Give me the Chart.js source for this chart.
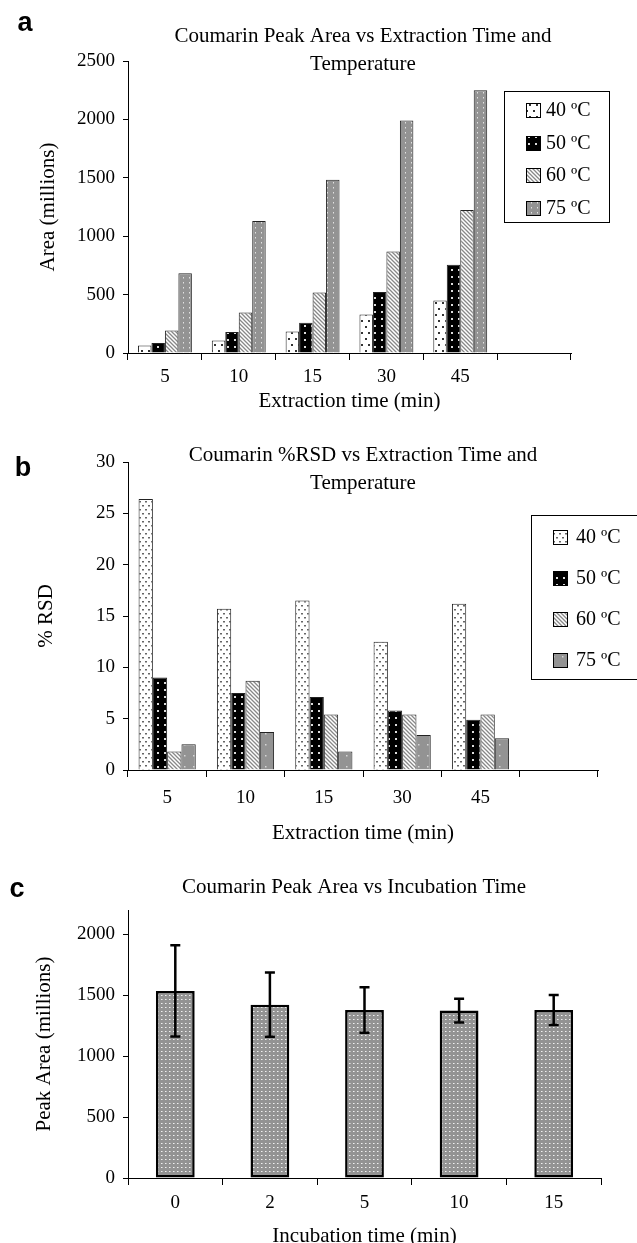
<!DOCTYPE html>
<html>
<head>
<meta charset="utf-8">
<script src="https://cdn.jsdelivr.net/npm/chart.js@4.4.1/dist/chart.umd.min.js"></script>
<style>
  body { margin: 0; background: #fff; width: 637px; height: 1243px; overflow: hidden; position: relative; }
  canvas { position: absolute; left: 0; }
</style>
</head>
<body>
<canvas id="chartA" width="637" height="420" style="top:0px"></canvas>
<canvas id="chartB" width="637" height="430" style="top:420px"></canvas>
<canvas id="chartC" width="637" height="400" style="top:850px"></canvas>
<script>
// ---- data ----
var extractionTimes = ['5', '10', '15', '30', '45', ''];
var tempLabels = ['40 ºC', '50 ºC', '60 ºC', '75 ºC'];

// panel a: peak area (millions)
var area40 = [65, 108, 185, 330, 449, null];
var area50 = [85, 179, 259, 523, 756, null];
var area60 = [193, 347, 517, 869, 1225, null];
var area75 = [682, 1131, 1483, 1991, 2250, null];
var areaTicks = [0, 500, 1000, 1500, 2000, 2500];

// panel b: %RSD
var rsd40 = [26.4, 15.7, 16.5, 12.5, 16.2, null];
var rsd50 = [9.0, 7.5, 7.1, 5.8, 4.9, null];
var rsd60 = [1.8, 8.7, 5.4, 5.4, 5.4, null];
var rsd75 = [2.5, 3.7, 1.8, 3.4, 3.1, null];
var rsdTicks = [0, 5, 10, 15, 20, 25, 30];

// panel c: peak area vs incubation time, with error
var incubationTimes = ['0', '2', '5', '10', '15'];
var peakArea = [1536, 1423, 1379, 1374, 1379];
var peakAreaErr = [374, 263, 186, 97, 124];
var peakTicks = [0, 500, 1000, 1500, 2000];

Chart.defaults.font.family = '"Liberation Serif", "Times New Roman", serif';
Chart.defaults.color = '#000';

// fill patterns like the old excel hatching
function makePattern(w, h, bg, draw) {
  var c = document.createElement('canvas');
  c.width = w; c.height = h;
  var g = c.getContext('2d');
  g.fillStyle = bg;
  g.fillRect(0, 0, w, h);
  draw(g);
  return g.createPattern(c, 'repeat');
}
var pat = {
  dots40: makePattern(7, 12, '#fff', function(g) {
    g.fillStyle = '#333';
    g.fillRect(1, 2, 2, 2); g.fillRect(4, 8, 2, 2);
  }),
  dots40b: makePattern(6, 8, '#fff', function(g) {
    g.fillStyle = '#666';
    g.fillRect(1, 1, 2, 1.5); g.fillRect(4, 5, 2, 1.5);
  }),
  dots50: makePattern(7, 7, '#000', function(g) {
    g.fillStyle = '#ddd';
    g.fillRect(3, 3, 2, 2);
  }),
  hatch60: makePattern(4, 4, '#fff', function(g) {
    g.strokeStyle = '#888'; g.lineWidth = 1.3;
    g.beginPath();
    g.moveTo(-1, -1); g.lineTo(5, 5);
    g.moveTo(-1, 3); g.lineTo(1, 5);
    g.moveTo(3, -1); g.lineTo(5, 1);
    g.stroke();
  }),
  grey75: makePattern(6, 5, '#939393', function(g) {
    g.fillStyle = '#e2e2e2';
    g.fillRect(3, 2, 1, 1.5);
  }),
  grey75b: makePattern(9, 11, '#939393', function(g) {
    g.fillStyle = '#d6d6d6';
    g.fillRect(4, 5, 1.5, 1.5);
  }),
  greyC: makePattern(4, 4, '#939393', function(g) {
    g.fillStyle = '#c4c4c4';
    g.fillRect(1, 1, 2, 1);
    g.fillStyle = '#f0f0f0';
    g.fillRect(1, 1, 1, 1);
  })
};

// panel letter and title drawn where the original puts them
var panelText = {
  id: 'panelText',
  afterDraw: function(chart, args, o) {
    var ctx = chart.ctx;
    ctx.save();
    ctx.fillStyle = '#000';
    ctx.textAlign = 'center';
    ctx.textBaseline = 'middle';
    ctx.font = 'bold 27px "Liberation Sans", Arial, sans-serif';
    ctx.fillText(o.letter, o.letterX, o.letterY);
    ctx.font = '21px "Liberation Serif", "Times New Roman", serif';
    o.title.forEach(function(line, i) {
      ctx.fillText(line, o.titleX, o.titleY + i * 28);
    });
    ctx.restore();
  }
};

// boxed legend floating over the plot
var boxLegend = {
  id: 'boxLegend',
  afterDraw: function(chart, args, o) {
    var ctx = chart.ctx;
    ctx.save();
    ctx.strokeStyle = '#000';
    ctx.lineWidth = 1;
    ctx.strokeRect(o.x + 0.5, o.y + 0.5, o.w, o.h);
    ctx.font = '20px "Liberation Serif", "Times New Roman", serif';
    ctx.textBaseline = 'middle';
    ctx.textAlign = 'left';
    chart.data.datasets.forEach(function(ds, i) {
      var cy = Math.round(o.rowY + i * o.rowGap);
      ctx.fillStyle = ds.backgroundColor;
      ctx.fillRect(o.swatchX, cy - 7, 14, 14);
      ctx.strokeRect(o.swatchX + 0.5, cy - 6.5, 14, 14);
      ctx.fillStyle = '#000';
      ctx.fillText(ds.label, o.textX, cy + 1);
    });
    ctx.restore();
  }
};

// +/- error bars on panel c
var errorBars = {
  id: 'errorBars',
  afterDatasetsDraw: function(chart, args, o) {
    var meta = chart.getDatasetMeta(0);
    var y = chart.scales.y;
    var vals = chart.data.datasets[0].data;
    var ctx = chart.ctx;
    ctx.save();
    ctx.strokeStyle = '#000';
    ctx.lineWidth = 2.5;
    meta.data.forEach(function(bar, i) {
      var top = y.getPixelForValue(vals[i] + o.errors[i]);
      var bot = y.getPixelForValue(vals[i] - o.errors[i]);
      ctx.beginPath();
      ctx.moveTo(bar.x, top); ctx.lineTo(bar.x, bot);
      ctx.moveTo(bar.x - 5, top); ctx.lineTo(bar.x + 5, top);
      ctx.moveTo(bar.x - 5, bot); ctx.lineTo(bar.x + 5, bot);
      ctx.stroke();
    });
    ctx.restore();
  }
};

function axes(o) {
  return {
    x: {
      grid: { offset: true, drawOnChartArea: false, color: '#000', tickLength: 7 },
      border: { color: '#000' },
      ticks: { padding: o.xPad, font: { size: 19 }, maxRotation: 0, autoSkip: false },
      title: { display: true, text: o.xTitle, font: { size: 21 }, padding: { top: 0, bottom: o.xTitlePad } },
      afterFit: function(s) { s.height = o.xHeight; }
    },
    y: {
      min: 0,
      max: o.yMax,
      grid: { drawOnChartArea: false, color: '#000', tickLength: 5 },
      border: { color: '#000' },
      ticks: { padding: 8, font: { size: 19 }, callback: function(v) { return String(v); } },
      afterBuildTicks: function(s) {
        s.ticks = o.yTicks.map(function(v) { return { value: v }; });
      },
      title: { display: true, text: o.yTitle, font: { size: 21 }, padding: { top: o.yTitlePad, bottom: 0 } },
      afterFit: function(s) { s.width = 128; }
    }
  };
}

function groupedSets(values, fills) {
  return values.map(function(v, i) {
    return {
      label: tempLabels[i],
      data: v,
      backgroundColor: fills[i],
      borderColor: '#222',
      borderWidth: 1,
      categoryPercentage: 0.73,
      barPercentage: 1.0
    };
  });
}

// ---- a ----
new Chart(document.getElementById('chartA'), {
  type: 'bar',
  data: {
    labels: extractionTimes,
    datasets: groupedSets([area40, area50, area60, area75],
      [pat.dots40, pat.dots50, pat.hatch60, pat.grey75])
  },
  options: {
    responsive: false,
    animation: false,
    devicePixelRatio: 1,
    layout: { padding: { top: 61, right: 66, bottom: 0, left: 0 } },
    scales: axes({ xTitle: 'Extraction time (min)', yTitle: 'Area (millions)', yMax: 2500, yTicks: areaTicks,
                   xPad: 6, xTitlePad: 6, xHeight: 67, yTitlePad: 36 }),
    plugins: {
      legend: { display: false },
      tooltip: { enabled: false },
      panelText: { letter: 'a', letterX: 25, letterY: 24, title: ['Coumarin Peak Area vs Extraction Time and', 'Temperature'], titleX: 363, titleY: 36 },
      boxLegend: { x: 504, y: 91, w: 105, h: 131, swatchX: 526, textX: 546, rowY: 110, rowGap: 32.6 }
    }
  },
  plugins: [panelText, boxLegend]
});

// ---- b ----
new Chart(document.getElementById('chartB'), {
  type: 'bar',
  data: {
    labels: extractionTimes,
    datasets: groupedSets([rsd40, rsd50, rsd60, rsd75],
      [pat.dots40b, pat.dots50, pat.hatch60, pat.grey75b])
  },
  options: {
    responsive: false,
    animation: false,
    devicePixelRatio: 1,
    layout: { padding: { top: 42, right: 39, bottom: 0, left: 0 } },
    scales: axes({ xTitle: 'Extraction time (min)', yTitle: '% RSD', yMax: 30, yTicks: rsdTicks,
                   xPad: 10, xTitlePad: 4, xHeight: 80, yTitlePad: 34 }),
    plugins: {
      legend: { display: false },
      tooltip: { enabled: false },
      panelText: { letter: 'b', letterX: 23, letterY: 49, title: ['Coumarin %RSD vs Extraction Time and', 'Temperature'], titleX: 363, titleY: 35 },
      boxLegend: { x: 531, y: 95, w: 120, h: 164, swatchX: 553, textX: 576, rowY: 117, rowGap: 41 }
    }
  },
  plugins: [panelText, boxLegend]
});

// ---- c ----
new Chart(document.getElementById('chartC'), {
  type: 'bar',
  data: {
    labels: incubationTimes,
    datasets: [{
      label: 'Peak Area',
      data: peakArea,
      backgroundColor: pat.greyC,
      borderColor: '#000',
      borderWidth: 2.5,
      borderSkipped: false,
      categoryPercentage: 1.0,
      barPercentage: 0.41
    }]
  },
  options: {
    responsive: false,
    animation: false,
    devicePixelRatio: 1,
    layout: { padding: { top: 60, right: 36, bottom: 0, left: 0 } },
    scales: axes({ xTitle: 'Incubation time (min)', yTitle: 'Peak Area (millions)', yMax: 2200, yTicks: peakTicks,
                   xPad: 7, xTitlePad: 1, xHeight: 72, yTitlePad: 32 }),
    plugins: {
      legend: { display: false },
      tooltip: { enabled: false },
      panelText: { letter: 'c', letterX: 17, letterY: 40, title: ['Coumarin Peak Area vs Incubation Time'], titleX: 354, titleY: 37 },
      errorBars: { errors: peakAreaErr }
    }
  },
  plugins: [panelText, errorBars]
});
</script>
</body>
</html>
